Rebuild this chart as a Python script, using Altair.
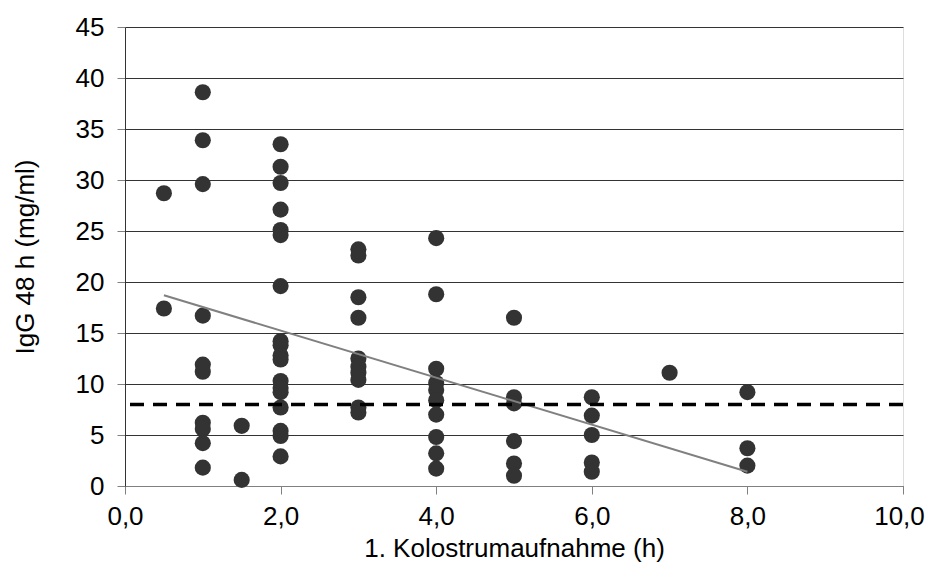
import altair as alt
import pandas as pd

x_vals = [0.5, 0.5,
          1, 1, 1, 1, 1, 1, 1, 1, 1, 1,
          1.5, 1.5,
          2, 2, 2, 2, 2, 2, 2, 2, 2, 2, 2, 2, 2, 2, 2, 2, 2, 2,
          3, 3, 3, 3, 3, 3, 3, 3, 3, 3,
          4, 4, 4, 4, 4, 4, 4, 4, 4, 4,
          5, 5, 5, 5, 5, 5,
          6, 6, 6, 6, 6,
          7,
          8, 8, 8]
y_vals = [28.7, 17.4,
          38.6, 33.9, 29.6, 16.7, 11.9, 11.2, 6.2, 5.6, 4.2, 1.8,
          5.9, 0.6,
          33.5, 31.3, 29.7, 27.1, 25.1, 24.6, 19.6, 14.2, 13.8, 12.8, 12.4, 10.3, 9.6, 9.2, 7.7, 5.4, 4.9, 2.9,
          23.2, 22.6, 18.5, 16.5, 12.5, 11.7, 11.1, 10.4, 7.7, 7.2,
          24.3, 18.8, 11.5, 10.1, 9.4, 8.4, 7.0, 4.8, 3.2, 1.7,
          16.5, 8.7, 8.1, 4.4, 2.2, 1.0,
          8.7, 6.9, 5.0, 2.3, 1.4,
          11.1,
          9.2, 3.7, 2.0]
trend_x = [0.5, 8]
trend_y = [18.7, 1.4]
threshold = [8]

df = pd.DataFrame({"x": x_vals, "y": y_vals})
df_trend = pd.DataFrame({"x": trend_x, "y": trend_y})
df_thr = pd.DataFrame({"t": threshold})

FONT = "Liberation Sans"
FS = 26
label_expr = "replace(format(datum.value, '.1f'), '.', ',')"

xscale = alt.Scale(domain=[0, 10], nice=False, zero=True)
yscale = alt.Scale(domain=[0, 45], nice=False)

points = alt.Chart(df).mark_circle(size=260, color="#333333", opacity=1).encode(
    x=alt.X("x:Q", scale=xscale,
            axis=alt.Axis(title="1. Kolostrumaufnahme (h)", values=[0, 2, 4, 6, 8, 10],
                          labelExpr=label_expr, grid=False, tickSize=8, labelFlush=False,
                          labelOffset={"condition": {"test": "datum.value == 10", "value": -4}, "value": 0},
                          domainColor="#808080", tickColor="#808080",
                          labelFontSize=FS, titleFontSize=FS, labelColor="black",
                          titleColor="black", labelPadding=9, titlePadding=6,
                          titleFontWeight="normal", labelFont=FONT, titleFont=FONT)),
    y=alt.Y("y:Q", scale=yscale,
            axis=alt.Axis(title="IgG 48 h (mg/ml)", values=list(range(0, 50, 5)),
                          grid=True, gridColor="#333333", gridWidth=1, tickSize=8,
                          domainColor="#333333", tickColor="#808080",
                          labelFontSize=FS, titleFontSize=FS, labelColor="black",
                          titleColor="black", labelPadding=13, titlePadding=37,
                          titleFontWeight="normal", labelFont=FONT, titleFont=FONT)),
)

trend = alt.Chart(df_trend).mark_line(color="#808080", strokeWidth=2).encode(
    x=alt.X("x:Q", scale=xscale),
    y=alt.Y("y:Q", scale=yscale),
)

thr = alt.Chart(df_thr).mark_rule(color="black", strokeWidth=3.5, strokeDash=[14, 9]).encode(
    y=alt.Y("t:Q", scale=yscale)
)

chart = alt.layer(points, trend, thr).properties(
    width=778, height=459,
    autosize=alt.AutoSizeParams(type="none"),
    padding={"left": 117, "top": 19, "right": 22, "bottom": 77},
).configure_view(stroke="#808080", strokeWidth=1.5).configure(background="white")

chart.save("out.html", embed_options={"renderer": "svg", "actions": False})
